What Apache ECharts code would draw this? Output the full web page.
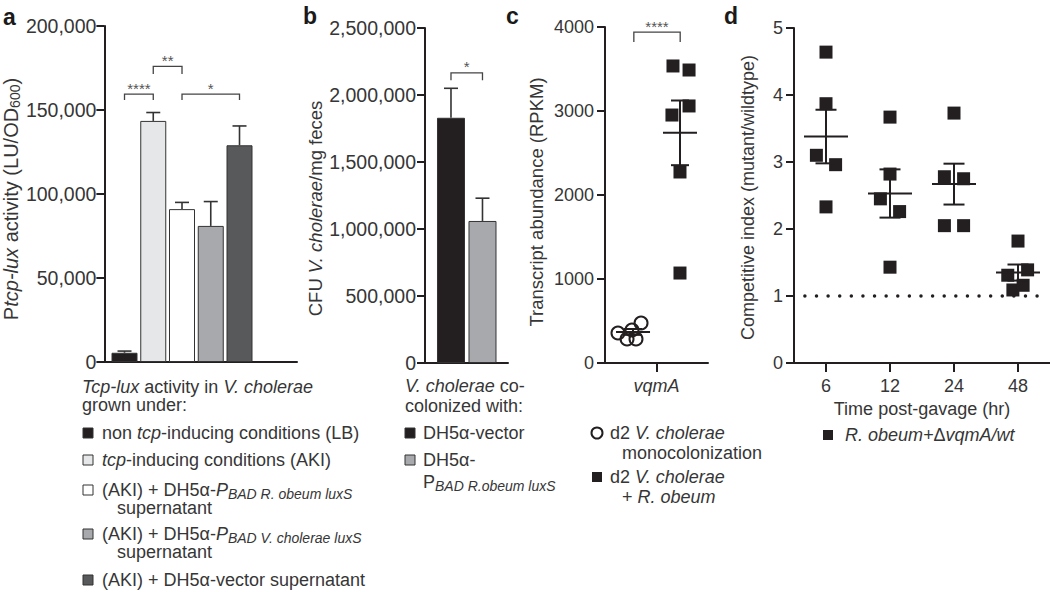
<!DOCTYPE html>
<html><head><meta charset="utf-8">
<script src="https://cdn.jsdelivr.net/npm/echarts@6/dist/echarts.min.js"></script>
<style>html,body{margin:0;padding:0;background:#fff}#c{width:1050px;height:592px}</style>
</head><body><div id="c"></div>
<script>
// ---------------- Panel a ----------------
const aPos = [1, 2, 3, 4, 5];
const aValues = [5500, 143500, 91000, 81000, 129000];
const aErrUpper = [6500, 148500, 95000, 95500, 140500];
const aColors = ['#231f20', '#e6e7e8', '#ffffff', '#a7a9ac', '#58595b'];
const aTicks = [0, 50000, 100000, 150000, 200000];
const aSig = [[1, 2, 159500, 156000], [2, 3, 176000, 171500], [3, 5, 159500, 156000]];
const aSigLabels = ['****', '**', '*'];
const aLegendTitle = ['{i|Tcp-lux} activity in {i|V. cholerae}', 'grown under:'];
const aLegendItems = [
  ['non {i|tcp}-inducing conditions (LB)'],
  ['{i|tcp}-inducing conditions (AKI)'],
  ['(AKI) + DH5α-{i|P}{si|BAD R. obeum luxS}', 'supernatant'],
  ['(AKI) + DH5α-{i|P}{si|BAD V. cholerae luxS}', 'supernatant'],
  ['(AKI) + DH5α-vector supernatant']
];
// ---------------- Panel b ----------------
const bPos = [1, 2];
const bValues = [1830000, 1060000];
const bErrUpper = [2050000, 1230000];
const bColors = ['#231f20', '#a7a9ac'];
const bTicks = [0, 500000, 1000000, 1500000, 2000000, 2500000];
const bSig = [[1, 2, 2165000, 2110000]];
const bSigLabels = ['*'];
const bLegendTitle = ['{i|V. cholerae} co-', 'colonized with:'];
const bLegendItems = [['DH5α-vector'], ['DH5α-', 'P{si|BAD R.obeum luxS}']];
// ---------------- Panel c ----------------
const cCategories = ['vqmA'];
const cTicks = [0, 1000, 2000, 3000, 4000];
const cMonoValues = [357, 286, 286, 393, 476];
const cMonoJitter = [-0.374, -0.286, -0.199, -0.238, -0.150];
const cRobValues = [3536, 3488, 2952, 3060, 2274, 1071];
const cRobJitter = [0.16, 0.316, 0.15, 0.316, 0.228, 0.228];
const cGroupX = [-0.228, 0.228];
const cMean = [370, 2740];
const cSem = [35, 385];
const cSig = [[-0.22, 0.23, 3940, 3820]];
const cSigLabels = ['****'];
const cLegendItems = [['d2 {i|V. cholerae}', 'monocolonization'], ['d2 {i|V. cholerae}', '+ {i|R. obeum}']];
// ---------------- Panel d ----------------
const dCategories = ['6', '12', '24', '48'];
const dTicks = [0, 1, 2, 3, 4, 5];
const dValues = [
  [4.64, 3.87, 3.10, 2.96, 2.33],
  [3.67, 2.82, 2.45, 2.26, 1.43],
  [3.73, 2.78, 2.75, 2.05, 2.05],
  [1.82, 1.39, 1.31, 1.09, 1.16]
];
const dJitter = [
  [0, 0, -0.15, 0.15, 0],
  [0, 0, -0.15, 0.15, 0],
  [0, -0.15, 0.15, -0.15, 0.15],
  [0, 0.15, -0.16, -0.08, 0.08]
];
const dMean = [3.38, 2.53, 2.67, 1.35];
const dSem = [0.40, 0.36, 0.305, 0.12];
const dRefLine = [[-0.33, 1], [3.39, 1]];
const dLegend = '{i|R. obeum+}Δ{i|vqmA/wt}';
const dXName = 'Time post-gavage (hr)';

// ---------------- styles ----------------
const FONT = '"Liberation Sans", Arial, Helvetica, sans-serif';
const INK = '#231f20';
const TXT = '#363636';
const FS = 18;

function richStyles(fs) {
  return {
    n: {fontSize: fs, fontFamily: FONT, color: TXT, fill: TXT, lineHeight: 22, verticalAlign: 'middle'},
    i: {fontSize: fs, fontFamily: FONT, color: TXT, fill: TXT, fontStyle: 'italic', lineHeight: 22, verticalAlign: 'middle'},
    s: {fontSize: Math.round(fs * 0.68), fontFamily: FONT, color: TXT, fill: TXT, lineHeight: 12, verticalAlign: 'bottom'},
    si: {fontSize: 14, fontFamily: FONT, color: TXT, fill: TXT, fontStyle: 'italic', lineHeight: 13, verticalAlign: 'bottom'}
  };
}

function yAxisCfg(grid, ticks, name, gap, pad, fmt, margin, lfs, nfs) {
  return {
    type: 'value', gridIndex: grid, min: ticks[0], max: ticks[ticks.length - 1], interval: ticks[1] - ticks[0],
    axisLine: {show: true, onZero: false, lineStyle: {color: INK, width: 2}},
    axisTick: {show: true, length: 8, lineStyle: {color: INK, width: 2}},
    axisLabel: {color: TXT, fontSize: lfs, fontFamily: FONT, margin: margin, formatter: fmt},
    splitLine: {show: false},
    name: name, nameLocation: 'middle', nameGap: gap, nameRotate: 90,
    nameTextStyle: {color: TXT, fontSize: nfs, fontFamily: FONT, padding: pad, rich: richStyles(nfs)}
  };
}
function hiddenX(grid, min, max, showLine) {
  return {
    type: 'value', gridIndex: grid, min: min, max: max, show: true,
    axisLine: {show: showLine, onZero: false, lineStyle: {color: INK, width: 2}},
    axisTick: {show: false}, axisLabel: {show: false}, splitLine: {show: false}
  };
}
function catX(grid, cats, extra) {
  return Object.assign({
    type: 'category', gridIndex: grid, data: cats, boundaryGap: true, position: 'bottom',
    axisLine: {show: true, onZero: false, lineStyle: {color: INK, width: 2}},
    axisTick: {show: true, alignWithLabel: true, length: 9, lineStyle: {color: INK, width: 2}},
    axisLabel: {color: TXT, fontSize: FS, fontFamily: FONT, margin: 14},
    splitLine: {show: false}
  }, extra || {});
}

function errRender(params, api) {
  const x = api.value(0), v = api.value(1), e = api.value(2);
  const p0 = api.coord([x, v]), p1 = api.coord([x, e]);
  const st = {stroke: '#333', lineWidth: 1.6};
  return {type: 'group', children: [
    {type: 'line', shape: {x1: p0[0], y1: p0[1], x2: p1[0], y2: p1[1]}, style: st},
    {type: 'line', shape: {x1: p1[0] - 7, y1: p1[1], x2: p1[0] + 7, y2: p1[1]}, style: st}
  ]};
}
function bracketRender(labels) {
  return function (params, api) {
    const x1 = api.value(0), x2 = api.value(1), yt = api.value(2), yb = api.value(3);
    const a = api.coord([x1, yb]), b = api.coord([x1, yt]), c = api.coord([x2, yt]), d = api.coord([x2, yb]);
    return {type: 'group', children: [
      {type: 'polyline', shape: {points: [a, b, c, d]}, style: {stroke: '#444', lineWidth: 1.3, fill: null}},
      {type: 'text', x: (b[0] + c[0]) / 2, y: b[1] - 6,
        style: {text: labels[params.dataIndex], fontSize: 15, fontFamily: FONT, fill: '#555', align: 'center', verticalAlign: 'middle'}}
    ]};
  };
}
function meanRender(hw, hc) {
  return function (params, api) {
    const x = api.value(0), m = api.value(1), s = api.value(2);
    const pm = api.coord([x, m]), pt = api.coord([x, m + s]), pb = api.coord([x, m - s]);
    const st = {stroke: INK, lineWidth: 2};
    return {type: 'group', children: [
      {type: 'line', shape: {x1: pm[0] - hw, y1: pm[1], x2: pm[0] + hw, y2: pm[1]}, style: st},
      {type: 'line', shape: {x1: pt[0], y1: pt[1], x2: pb[0], y2: pb[1]}, style: st},
      {type: 'line', shape: {x1: pt[0] - hc, y1: pt[1], x2: pt[0] + hc, y2: pt[1]}, style: st},
      {type: 'line', shape: {x1: pb[0] - hc, y1: pb[1], x2: pb[0] + hc, y2: pb[1]}, style: st}
    ]};
  };
}

// ---------------- graphic helpers (legends, panel letters) ----------------
const graphics = [];
function gText(x, y, text, extra) {
  graphics.push({type: 'text', x: x, y: y, silent: true, style: Object.assign({
    text: text, fontSize: FS, fontFamily: FONT, fill: TXT, align: 'left', verticalAlign: 'middle', rich: richStyles(FS)
  }, extra || {})});
}
function gRect(x, y, fill) {
  graphics.push({type: 'rect', silent: true, shape: {x: x, y: y - 5, width: 10, height: 10},
    style: {fill: fill, stroke: '#333', lineWidth: 1}});
}
function toRich(s) { return s.replace(/(^|\})([^{}]+?)(?=\{|$)/g, function (m, p, t) { return p + '{n|' + t + '}'; }); }

// panel letters
[['a', 3, 17], ['b', 303, 16], ['c', 506, 16], ['d', 724, 16]].forEach(function (l) {
  gText(l[1], l[2], l[0], {fontSize: 23, fontWeight: 'bold', fill: '#1a1a1a', rich: undefined});
});
// legend a
gText(82, 387, toRich(aLegendTitle[0]));
gText(82, 405, toRich(aLegendTitle[1]));
const aItemY = [433, 460, 490, 534, 580];
aLegendItems.forEach(function (it, i) {
  gRect(83, aItemY[i], aColors[i]);
  gText(102, aItemY[i], toRich(it[0]));
  if (it[1]) gText(117, aItemY[i] + 18, toRich(it[1]));
});
// legend b
gText(405, 386, toRich(bLegendTitle[0]));
gText(405, 406, toRich(bLegendTitle[1]));
const bItemY = [433, 460];
bLegendItems.forEach(function (it, i) {
  gRect(405, bItemY[i], bColors[i]);
  gText(423, bItemY[i], toRich(it[0]));
  if (it[1]) gText(423, bItemY[i] + 22, toRich(it[1]));
});
// legend c
graphics.push({type: 'circle', silent: true, shape: {cx: 597, cy: 433, r: 5.5}, style: {fill: 'none', stroke: INK, lineWidth: 2}});
graphics.push({type: 'rect', silent: true, shape: {x: 592, y: 472, width: 10, height: 10}, style: {fill: INK}});
const cItemY = [433, 477];
cLegendItems.forEach(function (it, i) {
  gText(610, cItemY[i], toRich(it[0]));
  gText(622, cItemY[i] + 20, toRich(it[1]));
});
// legend d
graphics.push({type: 'rect', silent: true, shape: {x: 823, y: 430, width: 10, height: 10}, style: {fill: INK}});
gText(845, 435, toRich(dLegend));

const option = {
  animation: false,
  backgroundColor: '#ffffff',
  grid: [
    {left: 101, top: 26, width: 196, height: 336},
    {left: 425, top: 28, width: 83, height: 335},
    {left: 605, top: 27, width: 103, height: 336},
    {left: 794, top: 28, width: 261, height: 335}
  ],
  xAxis: [
    hiddenX(0, 0.3, 7, true),
    hiddenX(1, 0.175, 2.81, true),
    catX(2, cCategories, {axisLabel: {color: TXT, fontSize: FS, fontFamily: FONT, fontStyle: 'italic', margin: 14}}),
    Object.assign(hiddenX(2, -0.5, 0.5, false), {position: 'bottom'}),
    catX(3, dCategories, {name: dXName, nameLocation: 'middle', nameGap: 37,
      nameTextStyle: {color: TXT, fontSize: FS, fontFamily: FONT}}),
    Object.assign(hiddenX(3, -0.5, 3.5, false), {position: 'bottom'})
  ],
  yAxis: [
    yAxisCfg(0, aTicks, '{n|P}{i|tcp-lux}{n| activity (LU/OD}{s|600}{n|)}', 77, [0, 10, 0, 0],
      function (v) { return v.toLocaleString('en-US'); }, 8, 19.5, 20),
    yAxisCfg(1, bTicks, '{n|CFU }{i|V. cholerae}{n|/mg feces}', 96, [0, 26, 0, 0],
      function (v) { return v.toLocaleString('en-US'); }, 9, 19.5, 18.5),
    yAxisCfg(2, cTicks, '{n|Transcript abundance (RPKM)}', 58, [0, 14, 0, 0], function (v) { return String(v); }, 11, 18, 18.5),
    yAxisCfg(3, dTicks, '{n|Competitive index (mutant/wildtype)}', 35, [0, 4, 0, 0], function (v) { return String(v); }, 11, 18, 18)
  ],
  graphic: graphics,
  series: [
    // panel a
    {type: 'bar', xAxisIndex: 0, yAxisIndex: 0, barWidth: 26, silent: true,
      itemStyle: {borderColor: '#333', borderWidth: 1},
      data: aPos.map(function (x, i) { return {value: [x, aValues[i]], itemStyle: {color: aColors[i]}}; })},
    {type: 'custom', xAxisIndex: 0, yAxisIndex: 0, silent: true, z: 3, renderItem: errRender, encode: {x: 0, y: [1, 2]},
      data: aPos.map(function (x, i) { return [x, aValues[i], aErrUpper[i]]; })},
    {type: 'custom', xAxisIndex: 0, yAxisIndex: 0, silent: true, renderItem: bracketRender(aSigLabels), encode: {x: [0, 1], y: [2, 3]},
      data: aSig},
    // panel b
    {type: 'bar', xAxisIndex: 1, yAxisIndex: 1, barWidth: 28, silent: true,
      itemStyle: {borderColor: '#333', borderWidth: 1},
      data: bPos.map(function (x, i) { return {value: [x, bValues[i]], itemStyle: {color: bColors[i]}}; })},
    {type: 'custom', xAxisIndex: 1, yAxisIndex: 1, silent: true, z: 3, renderItem: errRender, encode: {x: 0, y: [1, 2]},
      data: bPos.map(function (x, i) { return [x, bValues[i], bErrUpper[i]]; })},
    {type: 'custom', xAxisIndex: 1, yAxisIndex: 1, silent: true, renderItem: bracketRender(bSigLabels), encode: {x: [0, 1], y: [2, 3]},
      data: bSig},
    // panel c
    {type: 'scatter', xAxisIndex: 3, yAxisIndex: 2, silent: true, symbol: 'circle', symbolSize: 13,
      itemStyle: {color: 'rgba(0,0,0,0)', borderColor: INK, borderWidth: 2, opacity: 1},
      data: cMonoValues.map(function (v, i) { return [cMonoJitter[i], v]; })},
    {type: 'scatter', xAxisIndex: 3, yAxisIndex: 2, silent: true, symbol: 'rect', symbolSize: 13,
      itemStyle: {color: INK, opacity: 1},
      data: cRobValues.map(function (v, i) { return [cRobJitter[i], v]; })},
    {type: 'custom', xAxisIndex: 3, yAxisIndex: 2, silent: true, z: 4, renderItem: meanRender(17, 9), encode: {x: 0, y: 1},
      data: cGroupX.map(function (x, i) { return [x, cMean[i], cSem[i]]; })},
    {type: 'custom', xAxisIndex: 3, yAxisIndex: 2, silent: true, renderItem: bracketRender(cSigLabels), encode: {x: [0, 1], y: [2, 3]},
      data: cSig},
    // panel d
    {type: 'line', xAxisIndex: 5, yAxisIndex: 3, silent: true, symbol: 'none', z: 1,
      lineStyle: {color: INK, width: 3.5, type: [0.01, 11.6], cap: 'round'},
      data: dRefLine},
    {type: 'scatter', xAxisIndex: 5, yAxisIndex: 3, silent: true, symbol: 'rect', symbolSize: 13,
      itemStyle: {color: INK, opacity: 1},
      data: [].concat.apply([], dValues.map(function (arr, g) { return arr.map(function (v, k) { return [g + dJitter[g][k], v]; }); }))},
    {type: 'custom', xAxisIndex: 5, yAxisIndex: 3, silent: true, z: 4, renderItem: meanRender(22, 10.5), encode: {x: 0, y: 1},
      data: dMean.map(function (m, g) { return [g, m, dSem[g]]; })}
  ]
};
const chart = echarts.init(document.getElementById('c'), null, {renderer: 'svg'});
chart.setOption(option);
</script></body></html>
